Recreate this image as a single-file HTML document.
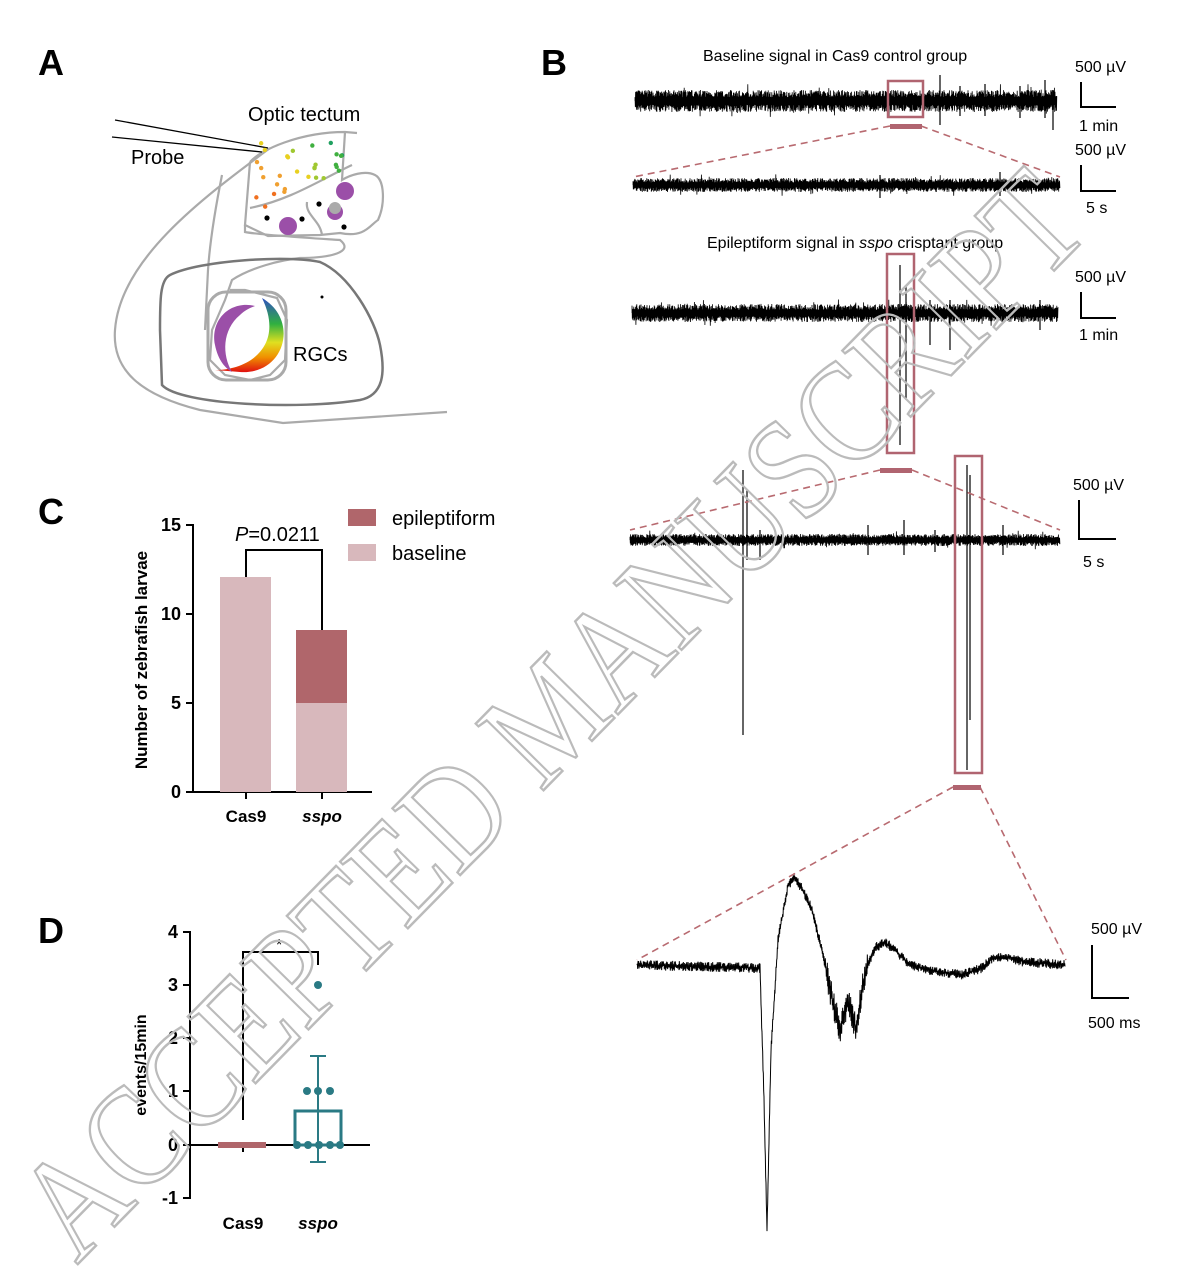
<!DOCTYPE html>
<html><head><meta charset="utf-8"><style>
html,body{margin:0;padding:0;background:#fff;}
svg{display:block;font-family:"Liberation Sans",Arial,sans-serif;}
</style></head><body>
<svg id="s" width="1184" height="1270" viewBox="0 0 1184 1270" xmlns="http://www.w3.org/2000/svg">
<rect width="1184" height="1270" fill="#fff"/>
<g font-weight="bold" font-size="36" fill="#000">
<text x="38" y="75">A</text><text x="541" y="75">B</text>
<text x="38" y="524">C</text><text x="38" y="943">D</text>
</g>
<!-- Panel A -->
<g fill="none" stroke="#aaa" stroke-width="2.2">
<path d="M270,148 C200,200 120,260 115,330 C112,370 140,395 200,410 L283,423 L447,412"/>
<path d="M250,162 C260,150 300,132 345,132 L357,133"/>
<path d="M250,162 L245,225 L268,236 L320,235 L340,233 C365,238 370,225 378,220 C385,205 385,180 375,175 C365,170 350,175 342,180 L345,132"/>
<path d="M250,208 C290,200 320,180 352,165"/>
<path d="M307,202 C305,215 320,220 322,235"/>
<path d="M245,225 L245,232 C260,235 310,238 340,240 C355,252 330,258 300,258 C280,260 250,268 232,280 L225,300 L212,330 L210,360 L225,375 L250,380 L270,375 L285,360 L287,320 L277,298 L245,290 L230,290"/>
<path d="M222,175 C215,210 210,240 208,270 L205,330"/>
</g>
<path d="M170,275 C160,280 160,300 160,330 L162,385 C180,405 300,410 360,400 C385,395 385,370 380,345 C375,320 350,275 320,262 C290,255 200,260 170,275 Z" fill="none" stroke="#777" stroke-width="2.5"/>
<rect x="208" y="292" width="78" height="88" rx="18" fill="none" stroke="#aaa" stroke-width="3"/>
<g stroke="#000" stroke-width="1.3"><line x1="115" y1="120" x2="268" y2="148"/><line x1="112" y1="137" x2="262" y2="152"/></g>
<text x="248" y="121" font-size="20">Optic tectum</text>
<text x="131" y="164" font-size="20">Probe</text>
<text x="293" y="361" font-size="20">RGCs</text>
<defs><linearGradient id="rb" x1="0" y1="0" x2="0" y2="1"><stop offset="0" stop-color="#3050c0"/><stop offset="0.35" stop-color="#30b040"/><stop offset="0.6" stop-color="#e0e020"/><stop offset="0.8" stop-color="#f09000"/><stop offset="1" stop-color="#e01010"/></linearGradient></defs>
<path d="M262,298 C300,320 285,375 240,372 L215,370 C250,370 285,345 262,298 Z" fill="url(#rb)"/>
<path d="M255,306 C230,300 210,320 215,345 C218,360 225,368 232,372 C222,355 222,330 240,315 C245,310 250,308 255,306 Z" fill="#9b4fa8"/>
<circle cx="322" cy="297" r="1.5" fill="#000"/>
<g id="dots"></g>
<circle cx="345" cy="191" r="9" fill="#9b4fa8"/><circle cx="288" cy="226" r="9" fill="#9b4fa8"/>
<circle cx="335" cy="212" r="8" fill="#9b4fa8"/><circle cx="335" cy="208" r="6" fill="#aaa"/>
<g fill="#000"><circle cx="267" cy="218" r="2.6"/><circle cx="302" cy="219" r="2.6"/><circle cx="319" cy="204" r="2.6"/><circle cx="344" cy="227" r="2.6"/></g>

<!-- Panel B -->
<g font-size="16" fill="#000">
<text x="703" y="61">Baseline signal in Cas9 control group</text>
<text x="707" y="248">Epileptiform signal in <tspan font-style="italic">sspo</tspan> crisptant group</text>
<text x="1075" y="72">500 µV</text><text x="1079" y="131">1 min</text>
<text x="1075" y="155">500 µV</text><text x="1086" y="213">5 s</text>
<text x="1075" y="282">500 µV</text><text x="1079" y="340">1 min</text>
<text x="1073" y="490">500 µV</text><text x="1083" y="567">5 s</text>
<text x="1091" y="934">500 µV</text><text x="1088" y="1028">500 ms</text>
</g>
<g stroke="#000" stroke-width="2" fill="none">
<path d="M1081,82 V107 H1116"/><path d="M1081,165 V191 H1116"/>
<path d="M1081,292 V318 H1116"/><path d="M1079,500 V539 H1116"/>
<path d="M1092,945 V998 H1129"/>
</g>
<g id="traces" stroke="#000" fill="none"></g>
<g stroke="#b86a70" stroke-width="1.6" stroke-dasharray="7,5" fill="none">
<line x1="890" y1="126" x2="633" y2="177"/><line x1="921" y1="126" x2="1060" y2="177"/>
<line x1="880" y1="470" x2="630" y2="530"/><line x1="912" y1="470" x2="1060" y2="530"/>
<line x1="953" y1="787" x2="637" y2="960"/><line x1="980" y1="787" x2="1066" y2="960"/>
</g>
<g stroke="#b06470" stroke-width="2.5" fill="none">
<rect x="888" y="81" width="35" height="36"/><rect x="887" y="254" width="27" height="199"/>
<rect x="955" y="456" width="27" height="317"/>
</g>
<g fill="#b06470"><rect x="890" y="124" width="32" height="5"/><rect x="880" y="468" width="32" height="5"/><rect x="953" y="785" width="28" height="5"/></g>

<!-- Panel C -->
<g stroke="#000" stroke-width="2" fill="none">
<path d="M186,525 H193 V792 H372 M186,614 H193 M186,703 H193 M186,792 H193 M246,792 V799 M322,792 V799"/>
<path d="M246,577 V550 H322 V630"/>
</g>
<rect x="220" y="577" width="51" height="215" fill="#d8b8bc"/>
<rect x="296" y="703" width="51" height="89" fill="#d8b8bc"/>
<rect x="296" y="630" width="51" height="73" fill="#b0666b"/>
<rect x="348" y="509" width="28" height="17" fill="#b0666b"/><rect x="348" y="544" width="28" height="17" fill="#d8b8bc"/>
<g font-size="20"><text x="392" y="525">epileptiform</text><text x="392" y="560">baseline</text>
<text x="235" y="541"><tspan font-style="italic">P</tspan>=0.0211</text></g>
<g font-size="18" font-weight="bold" text-anchor="end"><text x="181" y="531">15</text><text x="181" y="620">10</text><text x="181" y="709">5</text><text x="181" y="798">0</text></g>
<g font-size="17" font-weight="bold" text-anchor="middle"><text x="246" y="822">Cas9</text><text x="322" y="822" font-style="italic">sspo</text>
<text transform="translate(147,660) rotate(-90)">Number of zebrafish larvae</text></g>

<!-- Panel D -->
<g stroke="#000" stroke-width="2" fill="none">
<path d="M183,932 H190 V1198 H183 M183,985 H190 M183,1038 H190 M183,1091 H190 M183,1145 H370 M243,1145 V1152 M318,1145 V1152"/>
<path d="M243,1120 V952 H318 V965"/>
</g>
<text x="276" y="950" font-size="16">*</text>
<g font-size="18" font-weight="bold" text-anchor="end"><text x="178" y="938">4</text><text x="178" y="991">3</text><text x="178" y="1044">2</text><text x="178" y="1097">1</text><text x="178" y="1151">0</text><text x="178" y="1204">-1</text></g>
<g font-size="17" font-weight="bold" text-anchor="middle"><text x="243" y="1229">Cas9</text><text x="318" y="1229" font-style="italic">sspo</text>
<text transform="translate(146,1065) rotate(-90)" font-size="16">events/15min</text></g>
<g stroke="#2a7a84" stroke-width="2" fill="none"><rect x="295" y="1111" width="46" height="34" stroke-width="3"/><path d="M318,1056 V1162 M310,1056 H326 M310,1162 H326"/></g>
<line x1="218" y1="1145" x2="266" y2="1145" stroke="#b0666b" stroke-width="6"/>
<g fill="#2a7a84"><circle cx="318" cy="985" r="4"/><circle cx="307" cy="1091" r="4"/><circle cx="318" cy="1091" r="4"/><circle cx="330" cy="1091" r="4"/>
<circle cx="297" cy="1145" r="4"/><circle cx="308" cy="1145" r="4"/><circle cx="319" cy="1145" r="4"/><circle cx="330" cy="1145" r="4"/><circle cx="340" cy="1145" r="4"/></g>

<!-- watermark -->
<text transform="translate(585,748) rotate(-45.5)" text-anchor="middle" font-family="Liberation Serif,serif" font-size="145" fill="none" stroke="#bbbbbb" stroke-width="2.5" textLength="1450" lengthAdjust="spacingAndGlyphs">ACCEPTED MANUSCRIPT</text>
</svg>
<script>
var seed=7;function r(){seed=(seed*16807)%2147483647;return seed/2147483647;}
var NS="http://www.w3.org/2000/svg";
function add(g,d,w){var p=document.createElementNS(NS,"path");p.setAttribute("d",d);p.setAttribute("stroke-width",w||1);g.appendChild(p);}
var T=document.getElementById("traces");
function band(x0,x1,y,a,spikes){var d="M"+x0+","+y;var sg=1;for(var x=x0;x<=x1;x+=0.3){sg=-sg;var v=sg*(0.35+0.65*r())*a;if(r()<0.02)v*=1.6;d+=" L"+x.toFixed(2)+","+(y+v).toFixed(1);}add(T,d,0.8);
for(var i=0;i<spikes.length;i++){var s=spikes[i];add(T,"M"+s[0]+","+s[1]+" L"+s[0]+","+s[2],1.2);}}
band(635,1057,101,11,[[940,75,125],[1053,90,130],[1020,86,118],[960,86,116],[985,84,116],[1045,80,118]]);
band(633,1060,185,7,[[880,175,198],[1000,172,196]]);
band(632,1058,313,9,[[900,265,445],[906,285,400],[930,300,345],[950,300,350],[1040,300,330]]);
band(630,1060,540,6,[[743,470,735],[747,490,560],[868,525,555],[904,520,555],[967,465,770],[970,475,720],[1003,525,555],[935,530,552],[760,530,560]]);
var pts=[[637,965],[760,968],[764,1100],[767,1230],[771,1050],[778,940],[788,885],[794,878],[802,888],[812,910],[822,950],[830,990],[835,1010],[840,1030],[848,1000],[856,1030],[862,990],[868,965],[875,948],[885,942],[895,950],[910,965],[930,970],[960,975],[982,968],[992,958],[1010,958],[1025,962],[1065,965]];
var d="M637,965";var sg=1;for(var i=1;i<pts.length;i++){var a=pts[i-1],b=pts[i];var n=Math.max(2,Math.round((b[0]-a[0])*3));for(var k=1;k<=n;k++){var t=k/n;var x=a[0]+(b[0]-a[0])*t,y=a[1]+(b[1]-a[1])*t;var amp=(x>825&&x<868)?14:5;sg=-sg;d+=" L"+x.toFixed(2)+","+(y+sg*r()*amp).toFixed(1);}}
add(T,d,1);
var D=document.getElementById("dots");
var cols=["#e02020","#f07020","#f0a030","#e8d020","#a0c830","#40b040","#20a060","#3060c0"];
for(var i=0;i<45;i++){var x=255+r()*95,y=140+r()*75;var f=(x-250)/100+(220-y)/110;if(y>215-(x-250)*0.45)continue;var c=cols[Math.max(0,Math.min(7,Math.floor(f*4)))];var e=document.createElementNS(NS,"circle");e.setAttribute("cx",x);e.setAttribute("cy",y);e.setAttribute("r",2.2);e.setAttribute("fill",c);D.appendChild(e);}
</script>
</body></html>
